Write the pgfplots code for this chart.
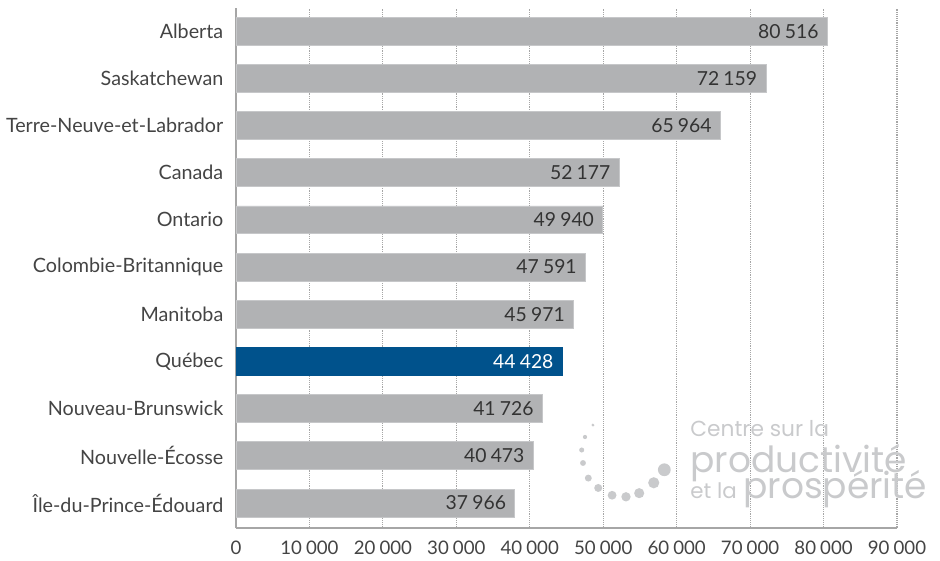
\documentclass[border=0pt]{standalone}
\usepackage{pgfplots}
\pgfplotsset{compat=1.18}
\usepackage{fontspec}
\setmainfont{Lato}
\newfontfamily\logofont{Poppins}
\definecolor{bargray}{HTML}{B1B2B4}
\definecolor{barline}{HTML}{C6C7C9}
\definecolor{qcblue}{HTML}{00528C}
\definecolor{axgray}{HTML}{A6A6A6}
\definecolor{txt}{HTML}{444444}
\definecolor{logogray}{HTML}{C9CACC}
\begin{document}
\begin{tikzpicture}
\begin{axis}[
  at={(0,0)}, anchor=south west,
  width=495.75pt, height=390pt, scale only axis,
  xbar, bar width=0.59, bar shift=0pt,
  xmin=0, xmax=90000, ymin=-0.53, ymax=10.49,
  axis x line=bottom, axis y line=left,
  axis line style={-, draw=axgray, line width=1.2pt},
  xtick={0,10000,...,90000},
  ytick={0,...,10},
  yticklabels={Île-du-Prince-Édouard,Nouvelle-Écosse,Nouveau-Brunswick,Québec,Manitoba,Colombie-Britannique,Ontario,Canada,Terre-Neuve-et-Labrador,Saskatchewan,Alberta},
  major tick length=0pt,
  scaled ticks=false,
  xmajorgrids, grid style={densely dotted, draw=gray!70, line width=0.8pt},
  /pgf/number format/.cd, 1000 sep={\hspace{0.22em}}, assume math mode=true,
  /pgfplots/.cd,
  every tick label/.append style={font=\fontsize{14}{16}\selectfont, text=txt},
  yticklabel style={xshift=-6pt, font=\fontsize{14.8}{16}\selectfont},
  xticklabel style={yshift=-6pt},
  point meta=x,
  nodes near coords={\pgfmathprintnumber{\pgfplotspointmeta}},
  every node near coord/.append style={anchor=east, xshift=-3pt, font=\fontsize{14.5}{16}\selectfont, text=black!80},
  clip=false,
]
\addplot[fill=bargray, draw=barline, line width=0.6pt] coordinates {
  (80516,10) (72159,9) (65964,8) (52177,7) (49940,6) (47591,5) (45971,4) (41726,2) (40473,1) (37966,0)
};
\addplot[fill=qcblue, draw=qcblue, line width=0.6pt, every node near coord/.append style={text=white}] coordinates {
  (44428,3)
};
% logo watermark
\node[anchor=base west, text=logogray, font=\logofont\fontsize{16.3}{18}\selectfont, inner sep=0pt] at (rel axis cs:0.687,0.175) {Centre sur la};
\node[anchor=base west, text=logogray, font=\logofont\fontsize{27}{28}\selectfont, inner sep=0pt] at (rel axis cs:0.687,0.106) {productivité};
\node[anchor=base west, text=logogray, font=\logofont\fontsize{16}{18}\selectfont, inner sep=0pt] at (rel axis cs:0.687,0.056) {et la};
\node[anchor=base west, text=logogray, font=\logofont\fontsize{27}{28}\selectfont, inner sep=0pt] at (rel axis cs:0.767,0.056) {prospérité};
\fill[logogray] (rel axis cs:0.540,0.198) circle[radius=1.2pt];
\fill[logogray] (rel axis cs:0.528,0.175) circle[radius=1.6pt];
\fill[logogray] (rel axis cs:0.523,0.150) circle[radius=1.9pt];
\fill[logogray] (rel axis cs:0.525,0.125) circle[radius=2.2pt];
\fill[logogray] (rel axis cs:0.533,0.096) circle[radius=2.6pt];
\fill[logogray] (rel axis cs:0.548,0.077) circle[radius=3.0pt];
\fill[logogray] (rel axis cs:0.569,0.063) circle[radius=3.3pt];
\fill[logogray] (rel axis cs:0.590,0.060) circle[radius=3.5pt];
\fill[logogray] (rel axis cs:0.610,0.067) circle[radius=3.8pt];
\fill[logogray] (rel axis cs:0.632,0.087) circle[radius=4.2pt];
\fill[logogray] (rel axis cs:0.648,0.112) circle[radius=4.8pt];
\end{axis}
\pgfresetboundingbox
\path[use as bounding box] (-177pt,-24.75pt) rectangle (528pt,396pt);
\end{tikzpicture}
\end{document}
